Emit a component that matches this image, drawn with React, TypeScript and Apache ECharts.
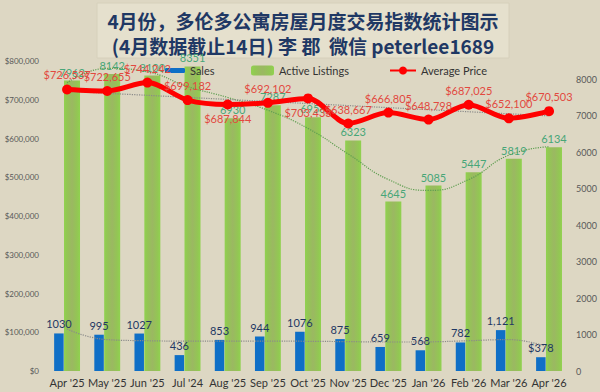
import React, { useEffect, useRef } from "react";
import * as echarts from "echarts";

const categories = ["Apr '25", "May '25", "Jun '25", "Jul '24", "Aug '25", "Sep '25", "Oct '25", "Nov '25", "Dec '25", "Jan '26", "Feb '26", "Mar '26", "Apr '26"];
const sales = [1030, 995, 1027, 436, 853, 944, 1076, 875, 659, 568, 782, 1121, 378];
const salesLabels = ["1030", "995", "1027", "436", "853", "944", "1076", "875", "659", "568", "782", "1,121", "$378"];
const activeListings = [7962, 8142, 8100, 8351, 6930, 7287, 6958, 6323, 4645, 5085, 5447, 5819, 6134];
const averagePrice = [726537, 722655, 744242, 699182, 687844, 692102, 703433, 638667, 666805, 648798, 687025, 652100, 670503];
const listingsTrend = [7900, 8300, 8200, 7800, 7500, 7150, 6650, 5950, 5250, 4950, 5250, 5920, 6150];
const salesTrend = [1150, 860, 830, 820, 820, 820, 815, 805, 795, 800, 830, 860, 640];
const priceTrend = [722000, 716700, 711400, 706100, 700800, 695500, 690200, 684900, 679600, 674300, 669000, 663700, 658400];

const titleLine1 = "4月份，多伦多公寓房屋月度交易指数统计图示";
const titleLine2 = "(4月数据截止14日) 李 郡  微信 peterlee1689";

export default function App() {
  const ref = useRef<HTMLDivElement>(null);
  useEffect(() => {
    if (!ref.current) return;
    const chart = echarts.init(ref.current, undefined, { renderer: "svg" });
    const font = "Lato, 'Noto Sans', sans-serif";
    const below = new Set([4, 6]);
    const greenGrad = new echarts.graphic.LinearGradient(0, 0, 1, 0, [
      { offset: 0, color: "#90d24f" },
      { offset: 0.18, color: "#93c654" },
      { offset: 0.5, color: "#9bb862" },
      { offset: 0.82, color: "#93c654" },
      { offset: 1, color: "#90d24f" },
    ]);
    chart.setOption({
      animation: false,
      backgroundColor: "#ddd7c3",
      textStyle: { fontFamily: font },
      graphic: [
        { type: "rect", shape: { x: 97, y: 3, width: 412, height: 55 }, style: { fill: "#e5e0cd", stroke: "#d6d0bb", lineWidth: 1 }, z: 0 },
        { type: "text", x: 303, y: 20, style: { text: titleLine1, fill: "#1f3864", font: "bold 19px 'Noto Sans CJK SC'", textAlign: "center", textVerticalAlign: "middle" } },
        { type: "text", x: 303, y: 45, style: { text: titleLine2, fill: "#1f3864", font: "bold 19px 'Noto Sans CJK SC'", textAlign: "center", textVerticalAlign: "middle" } },
      ],
      legend: [
        { left: 160, top: 60, itemWidth: 20, itemHeight: 5, data: ["Sales"], textStyle: { fontSize: 11, color: "#333", fontFamily: font }, itemGap: 4 },
        { left: 246, top: 60, itemWidth: 23, itemHeight: 10, data: ["Active Listings"], textStyle: { fontSize: 11, color: "#333", fontFamily: font } },
        { left: 384, top: 60, itemWidth: 26, itemHeight: 10, data: ["Average Price"], textStyle: { fontSize: 11, color: "#333", fontFamily: font } },
      ],
      grid: { left: 47, right: 30, top: 61, bottom: 21, containLabel: false },
      xAxis: {
        type: "category",
        data: categories,
        axisLine: { show: false },
        axisTick: { show: false },
        axisLabel: { interval: 0, fontSize: 11, color: "#333", margin: 6, fontFamily: font },
      },
      yAxis: [
        {
          type: "value", min: 0, max: 800000, interval: 100000,
          splitLine: { show: false }, axisLine: { show: false }, axisTick: { show: false },
          axisLabel: { fontSize: 8, color: "#595959", margin: 8, fontFamily: font, formatter: (v: number) => "$" + v.toLocaleString("en-US") },
        },
        {
          type: "value", min: 0, max: 8500, interval: 1000,
          splitLine: { show: false }, axisLine: { show: false }, axisTick: { show: false },
          axisLabel: { fontSize: 9, color: "#595959", margin: 7, fontFamily: font, formatter: (v: number) => (v > 8000 ? "" : String(v)) },
        },
      ],
      series: [
        {
          name: "Sales", type: "bar", yAxisIndex: 1, data: sales, barWidth: 9.5, barGap: "4%",
          itemStyle: { color: "#0f6fc6" },
          label: { show: true, position: "top", fontSize: 11, color: "#1f3864", distance: 4, fontFamily: font, formatter: (p: any) => salesLabels[p.dataIndex] },
          z: 2,
        },
        {
          name: "Active Listings", type: "bar", yAxisIndex: 1, data: activeListings, barWidth: 16,
          itemStyle: { color: greenGrad },
          label: { show: true, position: "top", fontSize: 11, color: "#47a678", distance: 3, fontFamily: font },
          z: 2,
        },
        {
          name: "salesTrend", type: "line", yAxisIndex: 1, data: salesTrend, smooth: 0.5, symbol: "none",
          lineStyle: { color: "#8a8a8a", width: 1.2, type: "dotted" }, z: 3, silent: true,
        },
        {
          name: "listingsTrend", type: "line", yAxisIndex: 1, data: listingsTrend, smooth: 0.5, symbol: "none",
          lineStyle: { color: "#5e9e50", width: 1.2, type: "dotted" }, z: 3, silent: true,
        },
        {
          name: "priceTrend", type: "line", yAxisIndex: 0, data: priceTrend, symbol: "none",
          lineStyle: { color: "#8a8a8a", width: 1.2, type: "dotted" }, z: 3, silent: true,
        },
        {
          name: "Average Price", type: "line", yAxisIndex: 0, smooth: 0.3,
          data: averagePrice.map((v, i) => ({ value: v, label: { position: below.has(i) ? "bottom" : "top" } })),
          symbol: "circle", symbolSize: 10,
          itemStyle: { color: "#ff0000" },
          lineStyle: { color: "#ff0000", width: 5 },
          label: { show: true, fontSize: 11, color: "#e2493f", distance: 4, fontFamily: font, formatter: (p: any) => "$" + Number(p.value).toLocaleString("en-US") },
          z: 5,
        },
      ],
    });
    return () => chart.dispose();
  }, []);
  return <div ref={ref} style={{ position: "fixed", left: 0, top: 0, width: 600, height: 392 }} />;
}
